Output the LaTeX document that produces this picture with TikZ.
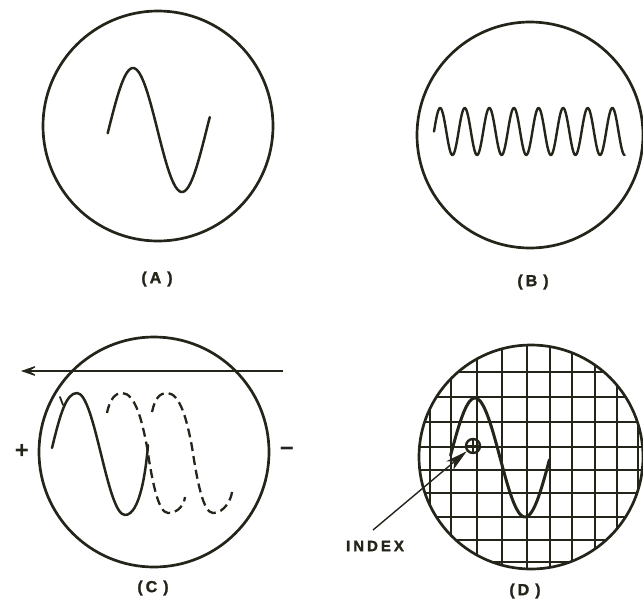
\documentclass[tikz,border=0pt]{standalone}
\usepackage{fontspec}
\setmainfont{Liberation Sans}
\usetikzlibrary{arrows.meta}
\definecolor{ink}{RGB}{36,36,26}
\tikzset{
  screen/.style={circle, draw=ink, line width=2.7pt, inner sep=0pt, minimum size=#1},
  trace/.style={draw=ink, line width=2.5pt, line cap=round, line join=round},
  ghost/.style={draw=ink, line width=2.3pt, dash pattern=on 9pt off 5pt, line cap=butt},
  gridline/.style={draw=ink, line width=1.7pt},
  figlbl/.style={font=\fontsize{16}{16}\selectfont\bfseries\addfontfeature{FakeBold=1.5}, text=ink, inner sep=0pt},
  signlbl/.style={font=\fontsize{24}{24}\selectfont\bfseries, text=ink, inner sep=0pt},
}
\begin{document}
\begin{tikzpicture}[x=1pt,y=-1pt]
\useasboundingbox (0,0) rectangle (643,598);

% ---------- (A) ----------
\node[screen=230pt] (scrA) at (158,126) {};
\draw[trace] plot[domain=-3:372, samples=90, smooth] ({108.5+\x/360*98},{130-62*sin(\x)});
\node[figlbl] (labA) at (157,279) {(\hspace{3pt}A\hspace{6pt})};

% ---------- (B) ----------
\node[screen=226pt] (scrB) at (530,135) {};
\draw[trace, line width=2.4pt] plot[domain=0:2790, samples=360, smooth] ({434+\x/360*24.6},{131.5-23.5*sin(\x)});
\node[figlbl] (labB) at (533,282) {(\hspace{3pt}B\hspace{6pt})};

% ---------- (C) ----------
\node[screen=230pt] (scrC) at (154,452) {};
\coordinate (arrS) at (283,371);
\coordinate (arrE) at (21,371);
\draw[draw=ink, line width=1.3pt, -{Stealth[length=20pt,width=14pt,inset=12pt]}] (arrS) -- (arrE);
\node[signlbl] (plus) at (22,451) {+};
\node[signlbl] (minus) at (287,452) {−};
\draw[trace] (52,448) .. controls (60,415) and (66,393) .. (77,393)
  .. controls (95,393) and (107,515) .. (125,515)
  .. controls (140,515) and (146,470) .. (148,445);
\draw[trace, line width=1.8pt] (60,397) -- (63,405);
\draw[ghost] (107,413) .. controls (110,398) and (116,393) .. (122,393)
  .. controls (135,393) and (142,420) .. (147,447)
  .. controls (152,480) and (158,513) .. (168,513)
  .. controls (178,513) and (184,505) .. (185,497);
\draw[ghost] (152,412) .. controls (155,398) and (160,393) .. (167,393)
  .. controls (180,393) and (187,420) .. (192,447)
  .. controls (197,480) and (203,513) .. (213,513)
  .. controls (224,513) and (231,500) .. (232,492);
\node[figlbl] (labC) at (153,588) {(\hspace{3pt}C\hspace{6pt})};

% ---------- (D) ----------
\begin{scope}
  \clip (531,457) circle (112);
  \foreach \gx in {430,451,477,502,527,550,572,595,617,638}
    \draw[gridline] (\gx,340) -- (\gx,575);
  \foreach \gy in {372,397,422,447,470,493,517,540,562}
    \draw[gridline] (415,\gy) -- (645,\gy);
\end{scope}
\node[screen=224pt] (scrD) at (531,457) {};
\draw[trace, line width=3pt] plot[domain=2:358, samples=90, smooth] ({450+\x/360*100},{457.5-59.5*sin(\x)});
\node[circle, draw=ink, line width=2.4pt, minimum size=14pt, inner sep=0pt] (idx) at (473,446) {};
\draw[draw=ink, line width=1.3pt] (idx.north) -- (idx.south) (idx.west) -- (idx.east);
\node[font=\fontsize{15}{15}\selectfont\bfseries\addfontfeature{LetterSpace=20,FakeBold=1.5}, text=ink, inner sep=0pt] (idxtxt) at (375,546) {INDEX};
\coordinate (idxS) at (373,530);
\draw[draw=ink, line width=1.4pt, -{Stealth[length=22pt,width=11pt,inset=6pt]}] (idxS) -- (idx);
\node[figlbl] (labD) at (525,591) {(\hspace{3pt}D\hspace{6pt})};
\end{tikzpicture}
\end{document}
